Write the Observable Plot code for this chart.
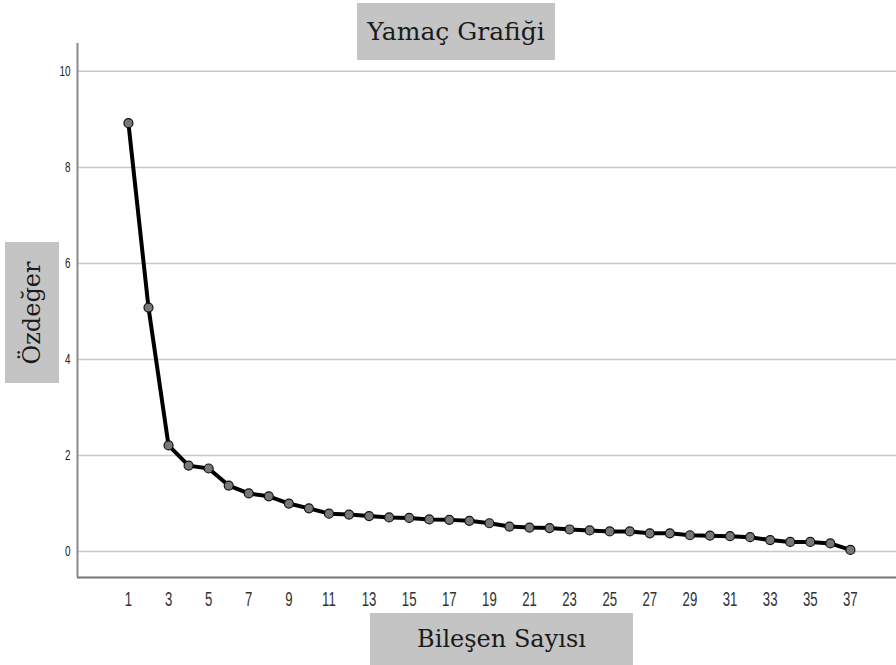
<!DOCTYPE html>
<html><head><meta charset="utf-8">
<script src="https://cdn.jsdelivr.net/npm/d3@7"></script>
<script src="https://cdn.jsdelivr.net/npm/@observablehq/plot@0.6"></script>
<style>
body{margin:0;background:#fff;}
#wrap{position:relative;width:896px;height:665px;overflow:hidden;}
.box{position:absolute;background:#c4c4c4;color:#1a1a1a;font-family:"DejaVu Serif","Liberation Serif",serif;display:flex;align-items:center;justify-content:center;}
</style></head>
<body><div id="wrap"></div>
<script>
const components = [1,2,3,4,5,6,7,8,9,10,11,12,13,14,15,16,17,18,19,20,21,22,23,24,25,26,27,28,29,30,31,32,33,34,35,36,37];
const eigenvalues = [8.92,5.08,2.21,1.79,1.73,1.375,1.21,1.15,1.0,0.9,0.79,0.77,0.74,0.71,0.70,0.67,0.66,0.64,0.59,0.52,0.50,0.49,0.46,0.44,0.42,0.42,0.38,0.38,0.34,0.33,0.32,0.30,0.24,0.20,0.20,0.17,0.035];
const xTicks = [1,3,5,7,9,11,13,15,17,19,21,23,25,27,29,31,33,35,37];
const yTicks = [0,2,4,6,8,10];
const data = components.map((c,i)=>({c, v: eigenvalues[i]}));

const chart = Plot.plot({
  width: 896, height: 665,
  marginLeft: 77, marginRight: 0, marginTop: 43, marginBottom: 88,
  style: {background: "#fff"},
  x: {domain: [-1.54, 39.3], ticks: xTicks, tickSize: 0, tickPadding: 16, label: null},
  y: {domain: [-0.54, 10.58], ticks: yTicks, tickSize: 0, tickPadding: 7, label: null},
  marks: [
    Plot.gridY(yTicks, {stroke: "#c8c8c8", strokeOpacity: 1, strokeWidth: 1.5}),
    Plot.axisY(yTicks, {tickSize: 0, tickPadding: 7, fontSize: 15, fill: "#222", fontFamily: "Liberation Sans, Arial, sans-serif"}),
    Plot.axisX(xTicks, {tickSize: 0, tickPadding: 14, fontSize: 20, fill: "#333", fontFamily: "Liberation Sans, Arial, sans-serif"}),
    Plot.ruleX([-1.54], {stroke: "#8a8a8a", strokeWidth: 2}),
    Plot.ruleY([-0.54], {stroke: "#777", strokeWidth: 2}),
    Plot.line(data, {x: "c", y: "v", stroke: "#000", strokeWidth: 4}),
    Plot.dot(data, {x: "c", y: "v", r: 4.5, fill: "#777", stroke: "#111", strokeWidth: 1.2})
  ]
});
// condense tick label glyphs to mimic the narrow font of the reference
d3.select(chart).selectAll('g[aria-label="x-axis tick label"] text, g[aria-label="y-axis tick label"] text')
  .attr("transform", function(){ const t = this.getAttribute("transform") || ""; return t + " scale(0.66,1)"; });
const wrap = document.getElementById("wrap");
wrap.appendChild(chart);
function box(text, l, t, w, h, fs, rot){
  const d = document.createElement("div");
  d.className = "box";
  d.style.left = l+"px"; d.style.top = t+"px"; d.style.width = w+"px"; d.style.height = h+"px";
  const s = document.createElement("span");
  s.textContent = text; s.style.fontSize = fs+"px";
  if (rot) { s.style.transform = "rotate(-90deg)"; s.style.whiteSpace = "nowrap"; }
  d.appendChild(s);
  wrap.appendChild(d);
}
box("Yamaç Grafiği", 357, 3, 198, 57, 25);
box("Özdeğer", 5, 242, 54, 141, 24, true);
box("Bileşen Sayısı", 370, 613, 263, 52, 24);
</script></body></html>
